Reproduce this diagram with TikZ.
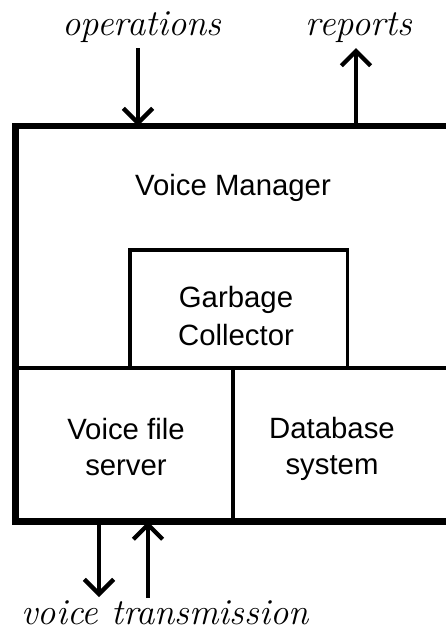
\documentclass[tikz,border=0pt]{standalone}
\usepackage{fontspec}
\setsansfont{Liberation Sans}
\usetikzlibrary{arrows.meta,fit}

\tikzset{every picture/.style={line width=0.75pt}}
\tikzset{
  outerbox/.style={draw, line width=4.8pt, inner sep=0pt, outer sep=0pt},
  innerbox/.style={draw, line width=2.6pt, inner sep=0pt, outer sep=0pt},
  boxtext/.style={font=\sffamily\fontsize{22}{26.5}\selectfont, align=center, inner sep=0.75pt},
  flowtext/.style={font=\itshape\fontsize{27.5}{32}\selectfont, inner sep=0.75pt},
  flow/.style={line width=3.2pt, -{Straight Barb[length=11pt,width=22pt]}}
}

\begin{document}
\begin{tikzpicture}[x=0.75pt,y=0.75pt,yscale=-1,xscale=1]
\useasboundingbox (0,0) rectangle (446,633);
\clip (0,0) rectangle (446,633);

%Shape: Rectangle [id:gc]
\node [innerbox, fit={(130,250) (347.5,368)}] (gc) {};
%Shape: Rectangle [id:vfs]
\node [innerbox, fit={(15.5,368) (233,521.5)}] (vfs) {};
%Shape: Rectangle [id:db]
\node [innerbox, fit={(233,368) (470,521.5)}] (db) {};
%Shape: Rectangle [id:mgr]
\node [outerbox, fit={(15.5,126) (470,521.5)}] (mgr) {};

% Text Node
\node [boxtext, anchor=base] (mgrtext) at (233,195) {Voice Manager};
% Text Node
\node [boxtext, font=\sffamily\fontsize{22}{29}\selectfont, text depth=0pt] (gctext) at (236,316) {Garbage\\Collector};
% Text Node
\node [boxtext] (vfstext) at (126,447) {Voice file\\server};
% Text Node
\node [boxtext] (dbtext) at (332,449) {Database\\system};

% Text Node
\node [flowtext, anchor=base] (ops) at (142,35) {operations};
% Text Node
\node [flowtext, anchor=base] (rep) at (359,35) {reports};
% Text Node
\node [flowtext, anchor=base] (vt) at (165,624) {voice transmission};

%Straight Lines [id:arrows]
\coordinate (opsfrom) at (138,48);
\coordinate (repto) at (356,48);
\coordinate (vtout) at (99,597);
\coordinate (vtin) at (148,598);
\draw [flow] (opsfrom) -- (opsfrom |- mgr.north);
\draw [flow] (repto |- mgr.north) -- (repto);
\draw [flow] (vtout |- mgr.south) -- (vtout);
\draw [flow] (vtin) -- (vtin |- mgr.south);

\end{tikzpicture}
\end{document}
